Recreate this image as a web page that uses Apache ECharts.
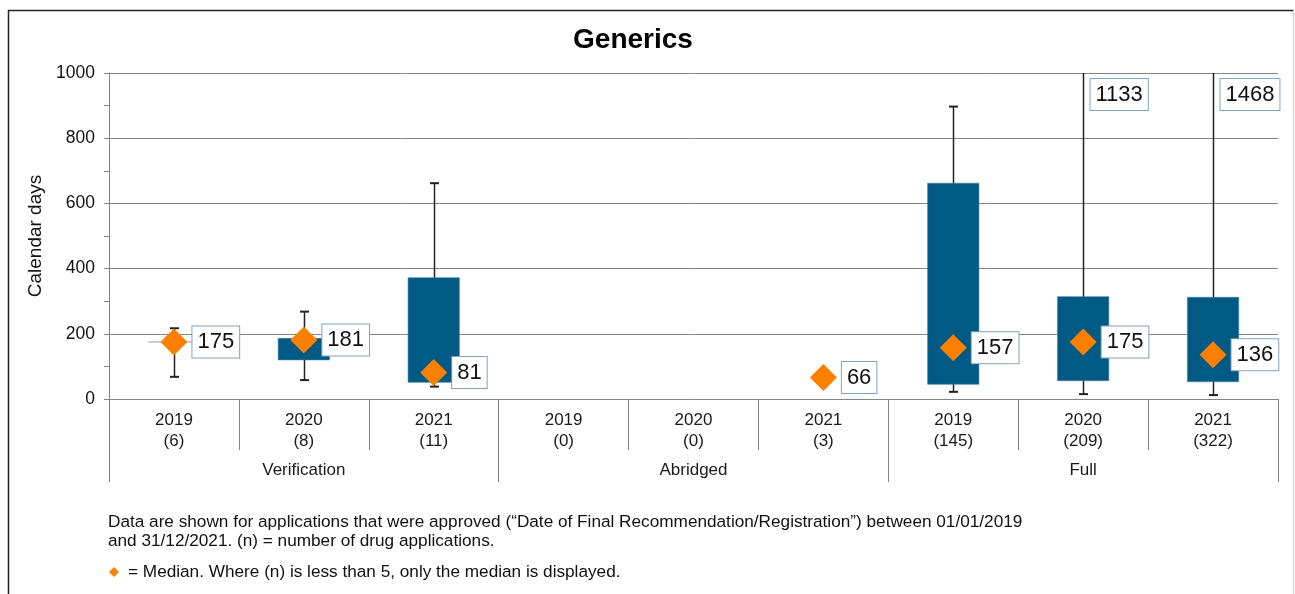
<!DOCTYPE html>
<html>
<head>
<meta charset="utf-8">
<script src="https://cdn.jsdelivr.net/npm/echarts@6/dist/echarts.min.js"></script>
<style>
html,body{margin:0;padding:0;background:#fff;}
#chart{width:1295px;height:594px;}
</style>
</head>
<body>
<div id="chart"></div>
<script>
// ---- data ----
var categories = ['2019\n(6)', '2020\n(8)', '2021\n(11)', '2019\n(0)', '2020\n(0)', '2021\n(3)', '2019\n(145)', '2020\n(209)', '2021\n(322)'];
var groups = ['Verification', 'Abridged', 'Full'];
var minVals = [68, 58, 38, null, null, null, 22, 15, 12];
var q1Vals = [175, 120, 51, null, null, null, 45, 56, 53];
var q3Vals = [175, 186, 372, null, null, null, 662, 314, 312];
var maxVals = [217, 268, 662, null, null, null, 897, 1133, 1468];
var medians = [175, 181, 81, null, null, 66, 157, 175, 136];
var yTicks = [0, 200, 400, 600, 800, 1000];
var titleText = 'Generics';
var yName = 'Calendar days';
var note1 = 'Data are shown for applications that were approved (\u201cDate of Final Recommendation/Registration\u201d) between 01/01/2019';
var note2 = 'and 31/12/2021. (n) = number of drug applications.';
var note3 = '= Median. Where (n) is less than 5, only the median is displayed.';

var FONT = '"Liberation Sans", Arial, sans-serif';
var BOX = '#005a84';
var ORANGE = '#fb8000';
var GRID = '#858585';
var LABEL_BORDER = '#7fa3c2';
var yMax = yTicks[yTicks.length - 1];

var boxData = [];
for (var i = 0; i < categories.length; i++) {
  if (q1Vals[i] !== null) boxData.push([i, minVals[i], q1Vals[i], q3Vals[i], maxVals[i]]);
}
var medData = [];
for (var j = 0; j < categories.length; j++) {
  if (medians[j] !== null) medData.push([j, medians[j]]);
}

function renderBox(params, api) {
  var idx = api.value(0);
  var vMin = api.value(1), vQ1 = api.value(2), vQ3 = api.value(3), vMax = api.value(4);
  var band = api.size([1, 0])[0];
  var bw = band * 0.395;
  var x = api.coord([idx, 0])[0];
  var pMin = api.coord([idx, vMin])[1];
  var pQ1 = api.coord([idx, vQ1])[1];
  var pQ3 = api.coord([idx, vQ3])[1];
  var clipped = vMax > yMax;
  var pMax = api.coord([idx, Math.min(vMax, yMax)])[1];
  var cap = 4.5;
  var xs = Math.round(x) + 0.5;
  var children = [
    {type: 'line', shape: {x1: xs, y1: pMin, x2: xs, y2: pMax}, style: {stroke: '#222', lineWidth: 1.5}},
    {type: 'line', shape: {x1: xs - cap, y1: pMin, x2: xs + cap, y2: pMin}, style: {stroke: '#222', lineWidth: 2}}
  ];
  if (!clipped) {
    children.push({type: 'line', shape: {x1: xs - cap, y1: pMax, x2: xs + cap, y2: pMax}, style: {stroke: '#222', lineWidth: 2}});
  }
  if (pQ1 - pQ3 < 1) {
    children.push({type: 'line', shape: {x1: x - bw / 2, y1: pQ1, x2: x + bw / 2, y2: pQ1}, style: {stroke: '#9a9a9a', lineWidth: 1}});
  } else {
    children.push({type: 'rect', shape: {x: x - bw / 2, y: pQ3, width: bw, height: pQ1 - pQ3}, style: {fill: BOX, stroke: '#3f7fa8', lineWidth: 0.6}});
  }
  if (clipped) {
    children.push({
      type: 'text', x: xs + 7, y: pMax + 6,
      style: {text: String(vMax), font: '22px ' + FONT, fill: '#111', backgroundColor: '#fff',
        borderColor: LABEL_BORDER, borderWidth: 1, padding: [5, 5, 4, 5], verticalAlign: 'top', align: 'left'}
    });
  }
  return {type: 'group', children: children};
}

var chart = echarts.init(document.getElementById('chart'), null, {renderer: 'canvas'});
chart.setOption({
  animation: false,
  backgroundColor: '#fff',
  textStyle: {fontFamily: FONT},
  grid: {left: 109, right: 17, top: 73, bottom: 195},
  xAxis: [{
    type: 'category', data: categories, position: 'bottom', offset: 0,
    axisLine: {lineStyle: {color: GRID, width: 1}},
    axisTick: {show: true, length: 51, interval: 0, lineStyle: {color: GRID}},
    axisLabel: {interval: 0, fontSize: 17, lineHeight: 21, margin: 11, color: '#1a1a1a', fontFamily: FONT},
    splitLine: {show: false}
  }, {
    type: 'category', data: groups, position: 'bottom', offset: 0,
    axisLine: {show: false},
    axisTick: {show: true, length: 83, interval: 0, lineStyle: {color: GRID}},
    axisLabel: {interval: 0, fontSize: 17, margin: 63, color: '#1a1a1a', fontFamily: FONT},
    splitLine: {show: false}
  }],
  yAxis: {
    type: 'value', min: yTicks[0], max: yMax, interval: yTicks[1] - yTicks[0],
    name: yName, nameLocation: 'middle', nameGap: 62, nameRotate: 90,
    nameTextStyle: {fontSize: 19, color: '#111', fontFamily: FONT},
    axisLine: {show: true, lineStyle: {color: GRID}},
    axisTick: {show: true, length: 5, lineStyle: {color: GRID}},
    minorTick: {show: true, splitNumber: 2, length: 5, lineStyle: {color: GRID}},
    axisLabel: {fontSize: 17.5, margin: 14, color: '#111', fontFamily: FONT, formatter: function (v) { return String(v); }},
    splitLine: {show: true, lineStyle: {color: GRID, width: 1}}
  },
  series: [{
    type: 'custom', name: 'range', data: boxData, renderItem: renderBox, z: 2,
    encode: {x: 0, y: [1, 2, 3, 4]}
  }, {
    type: 'scatter', name: 'Median', data: medData, z: 5,
    symbol: 'diamond', symbolSize: [27, 27],
    itemStyle: {color: ORANGE, opacity: 1},
    label: {
      show: true, position: 'right', distance: 5,
      formatter: function (p) { return String(p.value[1]); },
      fontSize: 22, color: '#111', fontFamily: FONT,
      backgroundColor: '#fff', borderColor: LABEL_BORDER, borderWidth: 1, padding: [5, 5, 4, 5]
    }
  }],
  graphic: [
    {type: 'line', shape: {x1: 8.5, y1: 10, x2: 8.5, y2: 594}, style: {stroke: '#222', lineWidth: 1.5}},
    {type: 'line', shape: {x1: 8, y1: 10.5, x2: 1294, y2: 10.5}, style: {stroke: '#222', lineWidth: 1.5}},
    {type: 'line', shape: {x1: 1293.5, y1: 10, x2: 1293.5, y2: 594}, style: {stroke: '#cfcfcf', lineWidth: 1}},
    {type: 'text', x: 633, y: 40, style: {text: titleText, font: 'bold 28px ' + FONT, fill: '#000', align: 'center', verticalAlign: 'middle'}},
    {type: 'text', x: 108, y: 522, style: {text: note1, font: '17.2px ' + FONT, fill: '#111', verticalAlign: 'middle'}},
    {type: 'text', x: 108, y: 541, style: {text: note2, font: '17.2px ' + FONT, fill: '#111', verticalAlign: 'middle'}},
    {type: 'polygon', shape: {points: [[114, 567], [119, 572], [114, 577], [109, 572]]}, style: {fill: ORANGE}},
    {type: 'text', x: 128, y: 572, style: {text: note3, font: '17.2px ' + FONT, fill: '#111', verticalAlign: 'middle'}}
  ]
});
</script>
</body>
</html>
